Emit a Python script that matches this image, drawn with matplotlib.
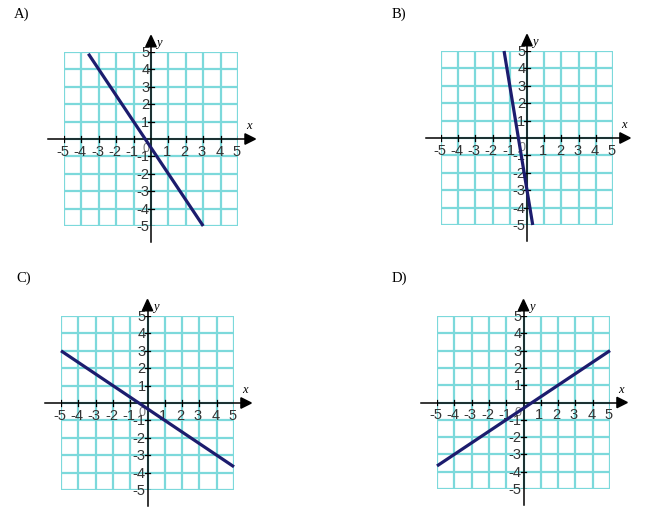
import matplotlib
matplotlib.use("Agg")
import matplotlib.pyplot as plt
from matplotlib.patches import Polygon

W, H = 650, 510

# answer choices: line segments drawn on each grid (x0, y0) -> (x1, y1)
labels = ["A)", "B)", "C)", "D)"]
seg_x = [[-3.6, 3.0], [-4/3, 1/3], [-5.0, 5.0], [-5.0, 5.0]]
seg_y = [[4.9, -5.0], [5.0, -5.0], [3.0, -11/3], [-11/3, 3.0]]
ticks = [-5, -4, -3, -2, -1, 1, 2, 3, 4, 5]

# grid rectangles in pixels (left, top, right, bottom) and label position
grids = [(64, 53, 238, 227), (441, 52, 613, 226),
         (61, 317, 234, 491), (437, 317, 610, 490)]
label_pos = [(14, 14), (392, 14), (16, 278), (392, 278)]

grid_col = "#7cd9db"
line_col = "#1c1c6e"
num_font = ["Liberation Sans Narrow", "Liberation Sans", "DejaVu Sans"]

fig = plt.figure(figsize=(W / 100, H / 100), dpi=100)
fig.patch.set_facecolor("white")

for k in range(4):
    l, t, r, b = grids[k]
    ax = fig.add_axes([l / W, (H - b) / H, (r - l) / W, (b - t) / H])
    ax.set_xlim(-5, 5)
    ax.set_ylim(-5, 5)
    ax.axis("off")

    # cyan grid
    for v in range(-5, 6):
        ax.plot([v, v], [-5, 5], color=grid_col, lw=1.6, zorder=1)
        ax.plot([-5, 5], [v, v], color=grid_col, lw=1.6, zorder=1)

    # axes with arrow heads
    ax.plot([-5.9, 5.5], [0, 0], color="black", lw=1.1, zorder=3, clip_on=False)
    ax.plot([0, 0], [-5.9, 5.4], color="black", lw=1.1, zorder=3, clip_on=False)
    ax.add_patch(Polygon([[5.4, 0.3], [6.0, 0], [5.4, -0.3]], closed=True,
                         color="black", clip_on=False, zorder=4))
    ax.add_patch(Polygon([[-0.3, 5.3], [0, 5.95], [0.3, 5.3]], closed=True,
                         color="black", clip_on=False, zorder=4))

    for v in ticks:
        ax.plot([v, v], [-0.17, 0.17], color="black", lw=0.9, zorder=3)
        ax.plot([-0.17, 0.17], [v, v], color="black", lw=0.9, zorder=3)
        ax.text(v - 0.08, -0.28, str(v), ha="center", va="top", fontsize=10.5,
                family=num_font, color="#333333", zorder=5)
        ax.text(-0.1, v, str(v), ha="right", va="center", fontsize=10.5,
                family=num_font, color="#333333", zorder=5)
    ax.text(-0.3, -0.2, "0", ha="center", va="top", fontsize=9,
            family=num_font, color="#777777", zorder=2)

    ax.text(5.65, 0.45, "x", ha="center", va="bottom", fontsize=9,
            style="italic", family="Liberation Serif", clip_on=False)
    ax.text(0.3, 5.6, "y", ha="left", va="center", fontsize=9,
            style="italic", family="Liberation Serif", clip_on=False)

    # the graphed line
    ax.plot(seg_x[k], seg_y[k], color=line_col, lw=2.3, zorder=6,
            solid_capstyle="butt", clip_on=False)

    fig.text(label_pos[k][0] / W, 1 - label_pos[k][1] / H, labels[k],
             ha="left", va="center", fontsize=10.5, family="Liberation Serif")

fig.savefig("out.png", dpi=100, facecolor="white")
